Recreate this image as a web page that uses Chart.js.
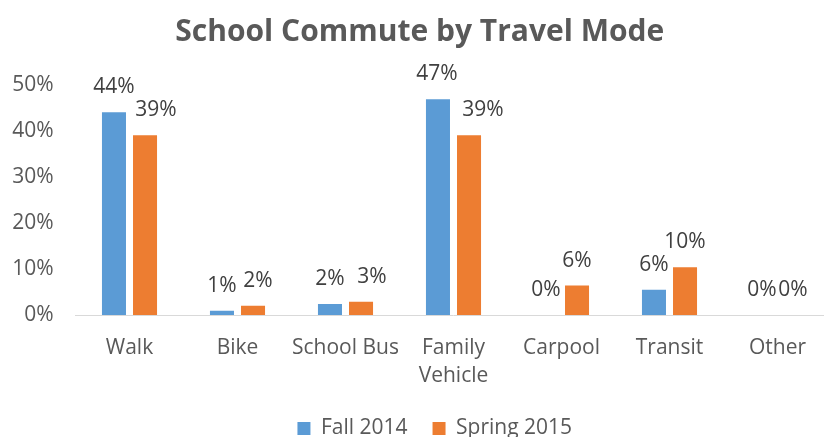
<!DOCTYPE html>
<html>
<head>
<meta charset="utf-8">
<script src="https://cdn.jsdelivr.net/npm/chart.js@4.4.0/dist/chart.umd.min.js"></script>
<style>
  html, body { margin: 0; padding: 0; overflow: hidden; background: #fff; width: 824px; height: 437px; }
  #wrap { width: 860px; height: 449px; position: relative; }
</style>
</head>
<body>
<div id="wrap"><canvas id="c" width="860" height="449"></canvas></div>
<script>
const categories = ['Walk', 'Bike', 'School Bus', ['Family', 'Vehicle'], 'Carpool', 'Transit', 'Other'];
const fall2014 = [44.1, 0.9, 2.4, 46.9, 0, 5.5, 0];
const spring2015 = [39.1, 2.0, 2.9, 39.1, 6.4, 10.4, 0];
const yTicks = [0, 10, 20, 30, 40, 50];

const FONT = "'Open Sans', 'Liberation Sans', sans-serif";
// horizontal nudges of the data labels (style only), per dataset
const labelNudge = [[0, 0, 0, -1, 0, 0, 0], [11, 5, 11, 14, 0, 0, 0]];

const dataLabels = {
  id: 'dataLabels',
  afterDatasetsDraw(chart) {
    const ctx = chart.ctx;
    ctx.save();
    ctx.font = '21px ' + FONT;
    ctx.fillStyle = '#404040';
    ctx.textAlign = 'center';
    ctx.textBaseline = 'alphabetic';
    chart.data.datasets.forEach((ds, i) => {
      const meta = chart.getDatasetMeta(i);
      meta.data.forEach((el, j) => {
        ctx.fillText(Math.round(ds.data[j]) + '%', el.x + labelNudge[i][j], el.y - 19);
      });
    });
    ctx.restore();
  }
};

const blockShift = {
  id: 'blockShift',
  afterLayout(chart) {
    const lg = chart.legend;
    if (lg) { lg.left += 19; lg.right += 19; }
    const tb = chart.titleBlock;
    if (tb) { tb.left += 4; tb.right += 4; }
  }
};

new Chart(document.getElementById('c'), {
  type: 'bar',
  data: {
    labels: categories,
    datasets: [
      { label: 'Fall 2014', data: fall2014, backgroundColor: '#5B9BD5', categoryPercentage: 0.575, barPercentage: 0.774 },
      { label: 'Spring 2015', data: spring2015, backgroundColor: '#ED7D31', categoryPercentage: 0.575, barPercentage: 0.774 }
    ]
  },
  options: {
    responsive: false,
    animation: false,
    layout: { padding: { left: 0, right: 28.5, top: 0, bottom: 0 } },
    plugins: {
      title: {
        display: true,
        text: 'School Commute by Travel Mode',
        color: '#595959',
        font: { family: FONT, size: 30, weight: 'bold' },
        padding: { top: 14, bottom: 35 }
      },
      legend: {
        position: 'bottom',
        labels: {
          color: '#595959',
          font: { family: FONT, size: 21 },
          boxWidth: 13,
          boxHeight: 13,
          padding: 25
        }
      },
      tooltip: { enabled: false }
    },
    scales: {
      x: {
        grid: { display: false, drawTicks: false },
        border: { display: true, color: '#D9D9D9', width: 1 },
        ticks: { color: '#595959', font: { family: FONT, size: 21, lineHeight: 1.333 }, padding: 19, maxRotation: 0, autoSkip: false },
        afterFit(scale) { scale.height = 78; }
      },
      y: {
        min: 0,
        max: 50,
        afterBuildTicks(scale) { scale.ticks = yTicks.map(v => ({ value: v })); },
        grid: { display: false, drawTicks: false },
        border: { display: false },
        ticks: { color: '#595959', font: { family: FONT, size: 21 }, padding: 22, callback: v => v + '%' },
        afterFit(scale) { scale.width = 75.5; }
      }
    }
  },
  plugins: [dataLabels, blockShift]
});
</script>
</body>
</html>
